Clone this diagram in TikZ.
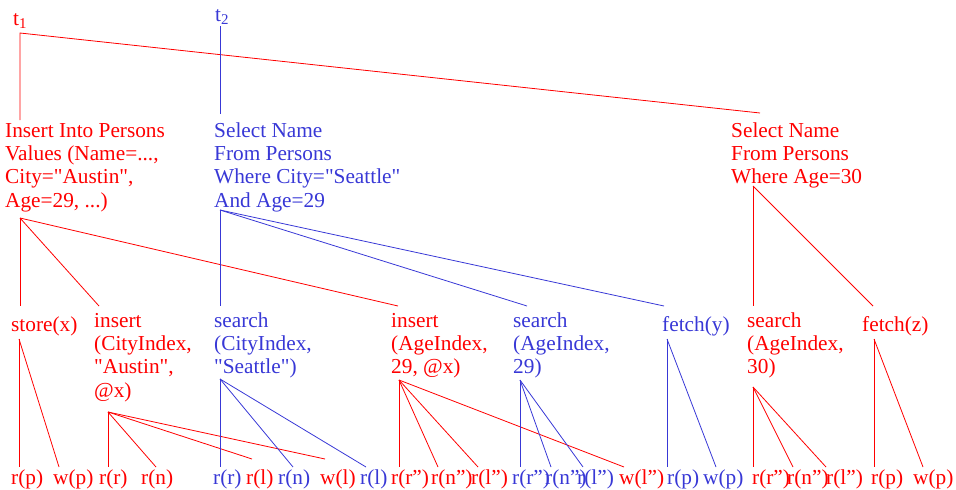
\documentclass[tikz,border=0pt]{standalone}
\usepackage{fontspec}
\newfontfamily\diagfont{Liberation Serif}
\definecolor{qred}{RGB}{255,0,0}
\definecolor{qblue}{RGB}{56,56,214}
\tikzset{
  txt/.style={anchor=base west, inner sep=0pt, align=left,
    font=\diagfont\fontsize{21.3}{23.3}\selectfont},
  rtxt/.style={txt, text=qred},
  btxt/.style={txt, text=qblue},
  rline/.style={draw=qred, line width=0.8pt},
  bline/.style={draw=qblue, line width=0.8pt}
}
\newcommand{\dq}{\textquotedblright}
\begin{document}
\begin{tikzpicture}[x=1pt,y=-1pt]
\useasboundingbox (0,0) rectangle (956,490);

% Transactions
\node[rtxt] (t1) at (13,25) {t\textsubscript{1}};
\node[btxt] (t2) at (215,21) {t\textsubscript{2}};
\coordinate (t1-out) at (20,33);
\coordinate (t2-out) at (220,26);

% SQL statements (placed at the baseline of their last line)
\node[rtxt] (insPersons) at (5,207) {Insert Into Persons\\Values (Name=...,\\City="Austin",\\Age=29, ...)};
\node[btxt] (selCity) at (214,207) {Select Name\\From Persons\\Where City="Seattle"\\And Age=29};
\node[rtxt] (selAge) at (731,183.6) {Select Name\\From Persons\\Where Age=30};
\coordinate (insPersons-in) at (20,120);
\coordinate (selCity-in) at (220,114);
\coordinate (selAge-in) at (760,113);
\coordinate (insPersons-out) at (20,218);
\coordinate (selCity-out) at (220,210);
\coordinate (selAge-out) at (753,186);

% Record and index operations
\node[rtxt] (storeX) at (11,331) {store(x)};
\node[rtxt] (insCity) at (94,397) {insert\\(CityIndex,\\"Austin",\\@x)};
\node[btxt] (srchCity) at (214,373.6) {search\\(CityIndex,\\"Seattle")};
\node[rtxt] (insAge) at (391,373.6) {insert\\(AgeIndex,\\29, @x)};
\node[btxt] (srchAge) at (513,373.6) {search\\(AgeIndex,\\29)};
\node[btxt] (fetchY) at (662,331) {fetch(y)};
\node[rtxt] (srchAge30) at (747,373.6) {search\\(AgeIndex,\\30)};
\node[rtxt] (fetchZ) at (862,331) {fetch(z)};
\coordinate (storeX-in) at (20,306);
\coordinate (insCity-in) at (99,306);
\coordinate (srchCity-in) at (220,306);
\coordinate (insAge-in) at (398,306);
\coordinate (srchAge-in) at (527,306);
\coordinate (fetchY-in) at (664,306);
\coordinate (srchAge30-in) at (753,306);
\coordinate (fetchZ-in) at (873,306);
\coordinate (storeX-out) at (19,339);
\coordinate (insCity-out) at (108,412);
\coordinate (srchCity-out) at (220,379);
\coordinate (insAge-out) at (399,380);
\coordinate (srchAge-out) at (520,380);
\coordinate (fetchY-out) at (667,339);
\coordinate (srchAge30-out) at (753,387);
\coordinate (fetchZ-out) at (874,339);

% Page reads and writes
\node[rtxt] (rp1) at (11,484) {r(p)};
\node[rtxt] (wp1) at (53,484) {w(p)};
\node[rtxt] (rr1) at (99,484) {r(r)};
\node[rtxt] (rn1) at (141,484) {r(n)};
\node[btxt] (rr2) at (213,484) {r(r)};
\node[rtxt] (rl2) at (246,484) {r(l)};
\node[btxt] (rn2) at (278,484) {r(n)};
\node[rtxt] (wl2) at (320,484) {w(l)};
\node[btxt] (rl3) at (360,484) {r(l)};
\node[rtxt] (rrA) at (391,484) {r(r\dq)};
\node[rtxt] (rnA) at (431,484) {r(n\dq)};
\node[rtxt] (rlA) at (471,484) {r(l\dq)};
\node[btxt] (rrB) at (512,484) {r(r\dq)};
\node[btxt] (rnB) at (545,484) {r(n\dq)};
\node[btxt] (rlB) at (577,484) {r(l\dq)};
\node[rtxt] (wlA) at (619,484) {w(l\dq)};
\node[btxt] (rpY) at (667,484) {r(p)};
\node[btxt] (wpY) at (703,484) {w(p)};
\node[rtxt] (rrC) at (752,484) {r(r\dq)};
\node[rtxt] (rnC) at (787,484) {r(n\dq)};
\node[rtxt] (rlC) at (826,484) {r(l\dq)};
\node[rtxt] (rpZ) at (871,484) {r(p)};
\node[rtxt] (wpZ) at (913,484) {w(p)};
\coordinate (rp1-in) at (19,467);
\coordinate (wp1-in) at (59,467);
\coordinate (rr1-in) at (108,467);
\coordinate (rn1-in) at (156,467);
\coordinate (rr2-in) at (220,467);
\coordinate (rl2-in) at (252,459);
\coordinate (rn2-in) at (293,467);
\coordinate (wl2-in) at (325,459);
\coordinate (rl3-in) at (366,467);
\coordinate (rrA-in) at (399,467);
\coordinate (rnA-in) at (438,467);
\coordinate (rlA-in) at (478,467);
\coordinate (rrB-in) at (520,467);
\coordinate (rnB-in) at (551,467);
\coordinate (rlB-in) at (583,467);
\coordinate (wlA-in) at (624,467);
\coordinate (rpY-in) at (667,467);
\coordinate (wpY-in) at (716,467);
\coordinate (rrC-in) at (753,467);
\coordinate (rnC-in) at (793,467);
\coordinate (rlC-in) at (826,467);
\coordinate (rpZ-in) at (874,467);
\coordinate (wpZ-in) at (923,467);

% Edges
\draw[rline] (insPersons-in) -- (t1-out) -- (selAge-in);
\draw[bline] (t2-out) -- (selCity-in);
\foreach \c in {storeX,insCity,insAge}
  \draw[rline] (insPersons-out) -- (\c-in);
\foreach \c in {srchCity,srchAge,fetchY}
  \draw[bline] (selCity-out) -- (\c-in);
\foreach \c in {srchAge30,fetchZ}
  \draw[rline] (selAge-out) -- (\c-in);
\foreach \c in {rp1,wp1}
  \draw[rline] (storeX-out) -- (\c-in);
\foreach \c in {rr1,rn1,rl2,wl2}
  \draw[rline] (insCity-out) -- (\c-in);
\foreach \c in {rr2,rn2,rl3}
  \draw[bline] (srchCity-out) -- (\c-in);
\foreach \c in {rrA,rnA,rlA,wlA}
  \draw[rline] (insAge-out) -- (\c-in);
\foreach \c in {rrB,rnB,rlB}
  \draw[bline] (srchAge-out) -- (\c-in);
\foreach \c in {rpY,wpY}
  \draw[bline] (fetchY-out) -- (\c-in);
\foreach \c in {rrC,rnC,rlC}
  \draw[rline] (srchAge30-out) -- (\c-in);
\foreach \c in {rpZ,wpZ}
  \draw[rline] (fetchZ-out) -- (\c-in);

\end{tikzpicture}
\end{document}
